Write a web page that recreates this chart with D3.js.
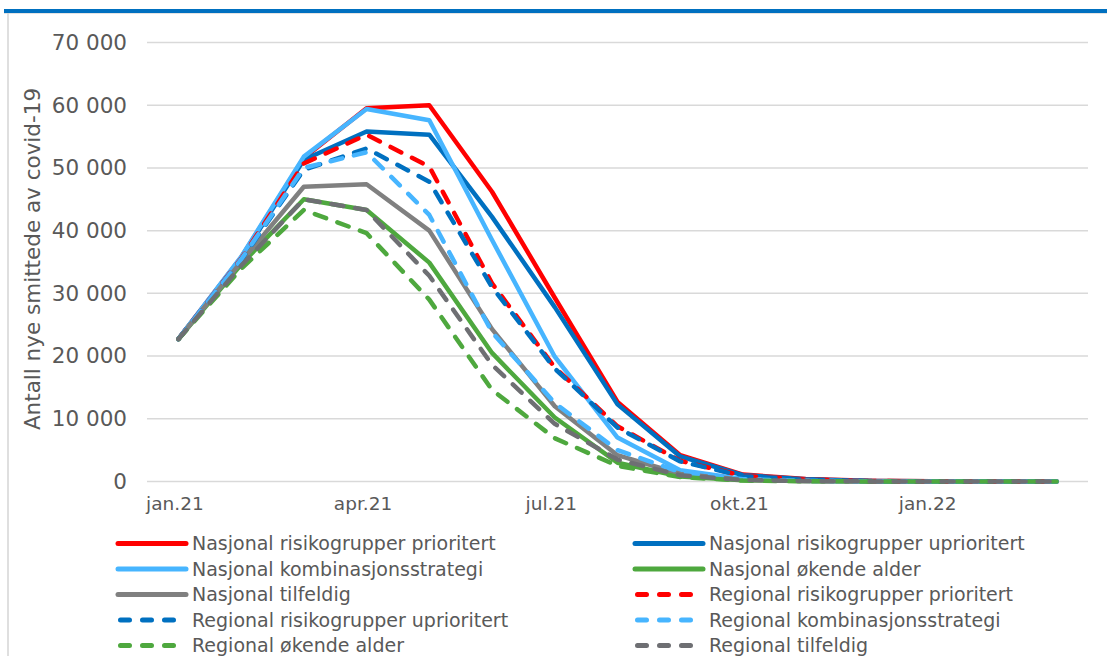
<!DOCTYPE html>
<html lang="no">
<head>
<meta charset="utf-8">
<script src="https://cdn.jsdelivr.net/npm/d3@7"></script>
<style>
  html, body { margin: 0; padding: 0; background: #fff; }
  svg { display: block; font-family: "DejaVu Sans", sans-serif; }
</style>
</head>
<body>
<svg id="chart" width="1107" height="656"></svg>
<script>
// Måneder (x-akse)
const months = ["jan.21","feb.21","mar.21","apr.21","mai.21","jun.21","jul.21","aug.21","sep.21","okt.21","nov.21","des.21","jan.22","feb.22","mar.22"];
const tickMonths = ["jan.21","apr.21","jul.21","okt.21","jan.22"];
const yTicks = [0, 10000, 20000, 30000, 40000, 50000, 60000, 70000];

// Antall nye smittede per måned, per strategi
const nasjonalRisikoPrioritert   = [22700, 35700, 51600, 59500, 60000, 46200, 29300, 12700, 4200, 1100, 400, 100, 30, 10, 0];
const nasjonalRisikoUprioritert  = [22700, 35600, 51300, 55800, 55300, 42200, 27800, 12300, 4000, 1000, 350, 90, 30, 10, 0];
const nasjonalKombinasjon        = [22700, 35800, 51800, 59400, 57600, 38500, 19900, 7000, 1800, 400, 120, 40, 10, 0, 0];
const nasjonalOkendeAlder        = [22700, 34600, 45000, 43300, 34900, 20500, 10200, 3000, 800, 200, 60, 20, 10, 0, 0];
const nasjonalTilfeldig          = [22700, 35000, 47000, 47400, 40000, 24300, 12000, 4200, 1200, 300, 80, 20, 10, 0, 0];
const regionalRisikoPrioritert   = [22700, 35500, 50700, 55300, 50200, 31600, 18200, 8800, 3300, 900, 300, 80, 20, 10, 0];
const regionalRisikoUprioritert  = [22700, 35300, 49700, 53100, 47800, 31000, 18000, 8600, 3200, 850, 280, 70, 20, 10, 0];
const regionalKombinasjon        = [22700, 35400, 50000, 52500, 42500, 23800, 12500, 5000, 1500, 350, 100, 30, 10, 0, 0];
const regionalOkendeAlder        = [22700, 33900, 43300, 39600, 29000, 14600, 6900, 2500, 700, 150, 50, 15, 5, 0, 0];
const regionalTilfeldig          = [22700, 34400, 45000, 43300, 32800, 18600, 9200, 3500, 1000, 250, 70, 20, 10, 0, 0];

const seriesNames = [
  "Nasjonal risikogrupper prioritert", "Nasjonal risikogrupper uprioritert",
  "Nasjonal kombinasjonsstrategi", "Nasjonal økende alder",
  "Nasjonal tilfeldig", "Regional risikogrupper prioritert",
  "Regional risikogrupper uprioritert", "Regional kombinasjonsstrategi",
  "Regional økende alder", "Regional tilfeldig"
];
const seriesValues = [
  nasjonalRisikoPrioritert, nasjonalRisikoUprioritert, nasjonalKombinasjon,
  nasjonalOkendeAlder, nasjonalTilfeldig, regionalRisikoPrioritert,
  regionalRisikoUprioritert, regionalKombinasjon, regionalOkendeAlder, regionalTilfeldig
];
const seriesColors = ["#FF0000", "#0070C0", "#47B5FF", "#4EA83E", "#808080",
                      "#FF0000", "#0070C0", "#47B5FF", "#4EA83E", "#6E6F73"];
const seriesDashed = [false, false, false, false, false, true, true, true, true, true];

const series = seriesNames.map((name, i) => ({
  name, values: seriesValues[i], color: seriesColors[i], dashed: seriesDashed[i]
}));

const svg = d3.select("#chart");
const textColor = "#595959";

// Ramme: blå topplinje og grå venstrekant
svg.append("rect").attr("x", 4).attr("y", 9).attr("width", 1103).attr("height", 4).attr("fill", "#0070C0");
svg.append("line").attr("x1", 4).attr("x2", 1107).attr("y1", 13.5).attr("y2", 13.5)
  .attr("stroke", "#E3E3E3").attr("stroke-width", 1);
svg.append("line").attr("x1", 8).attr("x2", 8).attr("y1", 13).attr("y2", 656)
  .attr("stroke", "#D4D4D4").attr("stroke-width", 1.5);

const x = d3.scalePoint().domain(months).range([147, 1088]).padding(0.5);
const y = d3.scaleLinear().domain([0, 70000]).range([481.5, 42.5]);

const nb = d3.formatLocale({ decimal: ",", thousands: " ", grouping: [3], currency: ["", " kr"] });
const fmt = nb.format(",d");

// Horisontale rutenettlinjer
svg.append("g").selectAll("line").data(yTicks).join("line")
  .attr("x1", 147).attr("x2", 1088)
  .attr("y1", d => y(d)).attr("y2", d => y(d))
  .attr("stroke", "#D9D9D9").attr("stroke-width", 1.5);

// Y-akse
const yAxis = svg.append("g").attr("transform", "translate(127,0)")
  .call(d3.axisLeft(y).tickValues(yTicks).tickFormat(fmt).tickSize(0).tickPadding(0));
yAxis.select(".domain").remove();
yAxis.selectAll("text").attr("fill", textColor).attr("font-size", 21.5)
  .attr("font-family", "DejaVu Sans, sans-serif");

// X-akse
const xAxis = svg.append("g").attr("transform", "translate(-4,496)")
  .call(d3.axisBottom(x).tickValues(tickMonths).tickSize(0).tickPadding(0));
xAxis.select(".domain").remove();
xAxis.selectAll("text").attr("fill", textColor).attr("font-size", 18.5)
  .attr("font-family", "DejaVu Sans, sans-serif").attr("dy", "0.75em");

// Y-aksetittel
svg.append("text")
  .attr("transform", "translate(40,259) rotate(-90)")
  .attr("text-anchor", "middle")
  .attr("fill", textColor).attr("font-size", 21.5)
  .text("Antall nye smittede av covid-19");

// Linjer
const line = d3.line().x((d, i) => x(months[i])).y(d => y(d));
svg.append("g").selectAll("path").data(series).join("path")
  .attr("d", d => line(d.values))
  .attr("fill", "none")
  .attr("stroke", d => d.color)
  .attr("stroke-width", 4.5)
  .attr("stroke-linejoin", "round")
  .attr("stroke-linecap", d => d.dashed ? "round" : "butt")
  .attr("stroke-dasharray", d => d.dashed ? "12,12" : null);

// Tegnforklaring i to kolonner
const legendCols = [118, 635];
const legendRow0 = 543.5, legendRowStep = 25.5;
const legend = svg.append("g").selectAll("g").data(series).join("g")
  .attr("transform", (d, i) => `translate(${legendCols[i % 2]},${legendRow0 + Math.floor(i / 2) * legendRowStep})`);
legend.append("line")
  .attr("x1", d => d.dashed ? 2.5 : 0).attr("x2", d => d.dashed ? 66 : 68)
  .attr("y1", 0).attr("y2", 0)
  .attr("stroke", d => d.color).attr("stroke-width", 5)
  .attr("stroke-linecap", "round")
  .attr("stroke-dasharray", d => d.dashed ? "9,13" : null);
legend.append("text")
  .attr("x", 74).attr("y", 0).attr("dy", "0.35em")
  .attr("fill", textColor).attr("font-size", 19)
  .text(d => d.name);
</script>
</body>
</html>
